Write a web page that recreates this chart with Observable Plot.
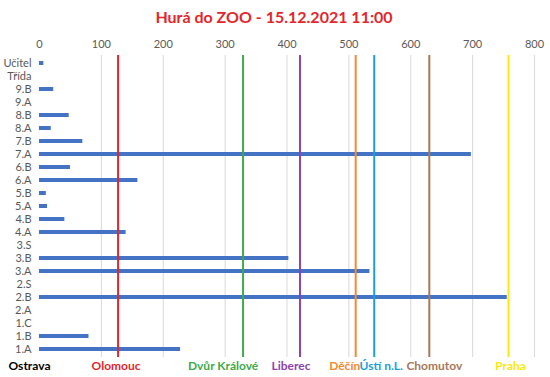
<!DOCTYPE html>
<html>
<head>
<meta charset="utf-8">
<script src="https://cdn.jsdelivr.net/npm/d3@7"></script>
<script src="https://cdn.jsdelivr.net/npm/@observablehq/plot@0.6"></script>
<style>
  html, body { margin: 0; padding: 0; background: #fff; }
  #chart { width: 550px; height: 377px; }
</style>
</head>
<body>
<div id="chart"></div>
<script>
const title = "Hurá do ZOO - 15.12.2021 11:00";
const classes = ["Učitel","Třída","9.B","9.A","8.B","8.A","7.B","7.A","6.B","6.A","5.B","5.A","4.B","4.A","3.S","3.B","3.A","2.S","2.B","2.A","1.C","1.B","1.A"];
const counts  = [7, 0, 23, 0, 48, 19, 70, 698, 50, 159, 11, 13, 41, 140, 0, 403, 534, 0, 756, 0, 0, 80, 228];
const cities  = ["Ostrava","Olomouc","Dvůr Králové","Liberec","Děčín","Ústí n.L.","Chomutov","Praha"];
const cityValues = [0, 127, 329, 421, 511, 541, 630, 758];
const xTicks = [0,100,200,300,400,500,600,700,800];

// styling (not data)
const cityColors = ["#000000","#e3262b","#3daa4b","#8e44ad","#ef8a35","#1aa0d8","#a8775a","#fce80a"];
const labelShift = [-10,-2,-20,-9,-11,7,5,2];

const bars = classes.map((c,i) => ({cls: c, value: counts[i]}));
const cityData = cities.map((c,i) => ({city: c, value: cityValues[i], color: cityColors[i], dx: labelShift[i]}));

const font = "Lato, 'Open Sans', sans-serif";

const plot = Plot.plot({
  width: 550,
  height: 377,
  marginTop: 55,
  marginBottom: 20,
  marginLeft: 39,
  marginRight: 16,
  style: {fontFamily: font, background: "#fff"},
  x: {domain: [0, 800], ticks: xTicks},
  y: {domain: classes, paddingInner: 0.7, paddingOuter: 0.35},
  marks: [
    Plot.ruleX(xTicks.filter(d => d > 0), {stroke: "#d9d9d9", strokeWidth: 1}),
    Plot.axisX({anchor: "top", ticks: xTicks, tickSize: 0, tickPadding: 8, fontSize: 11, fill: "#595959", label: null, tickFormat: d => String(d)}),
    Plot.axisY({tickSize: 0, tickPadding: 8, fontSize: 11, fill: "#595959", label: null}),
    Plot.barX(bars, {x: "value", y: "cls", fill: "#4472c4"}),
    Plot.ruleX(cityData.filter(d => d.value > 0), {x: "value", stroke: "color", strokeWidth: 2}),
    ...cityData.map(d => Plot.text([d], {x: "value", text: "city", frameAnchor: "bottom", dy: 9, dx: d.dx, lineAnchor: "middle", fill: d.color, fontWeight: "bold", fontSize: 12})),
    Plot.text([title], {frameAnchor: "top", dy: -38, dx: -13, lineAnchor: "middle", fill: "#e3262b", fontWeight: "bold", fontSize: 16, text: d => d})
  ]
});
document.getElementById("chart").appendChild(plot);
</script>
</body>
</html>
